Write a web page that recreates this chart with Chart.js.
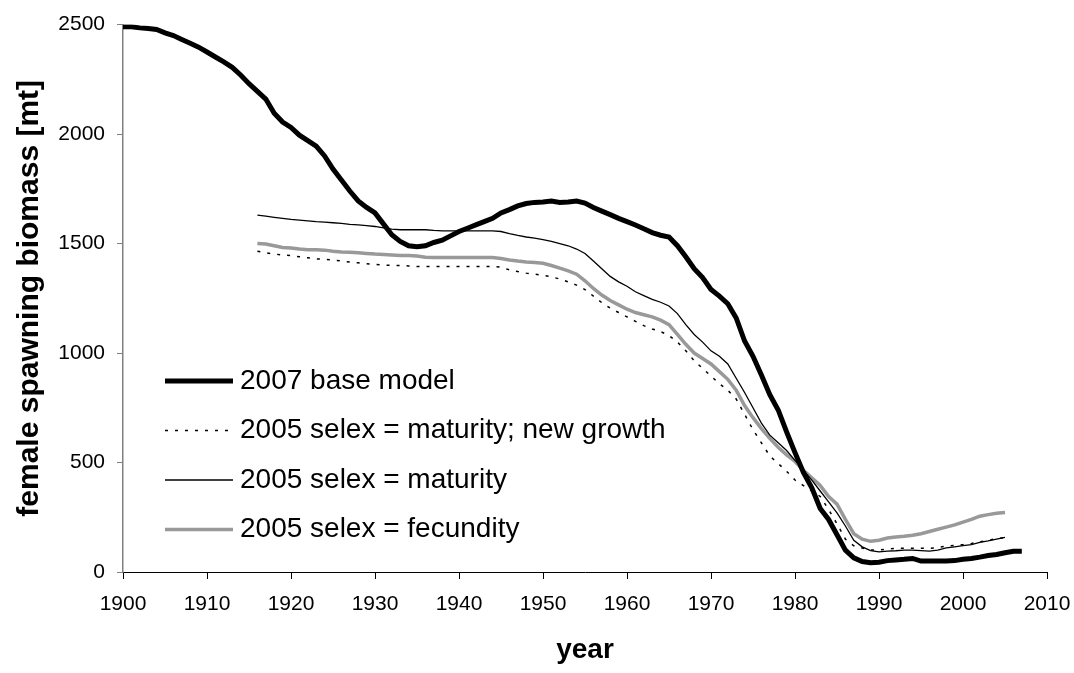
<!DOCTYPE html>
<html>
<head>
<meta charset="utf-8">
<title>female spawning biomass</title>
<script src="https://cdn.jsdelivr.net/npm/chart.js@4.4.1/dist/chart.umd.min.js"></script>
<style>
  html, body { margin: 0; padding: 0; background: #fff; }
  #wrap { width: 1074px; height: 673px; position: relative; }
</style>
</head>
<body>
<div id="wrap"><canvas id="biomass-chart"></canvas></div>
<script>
// first year of each series; one value per year after that
const baseStartYear = 1900;
const selexStartYear = 1916;

const seriesLabels = [
  "2007 base model",
  "2005 selex = maturity; new growth",
  "2005 selex = maturity",
  "2005 selex = fecundity"
];

// 1900 - 2007
const baseModel = [
  2490, 2490, 2485, 2482, 2478, 2462, 2450, 2432, 2415, 2397,
  2375, 2352, 2330, 2305, 2270, 2230, 2195, 2160, 2095, 2055,
  2030, 1995, 1970, 1945, 1900, 1840, 1790, 1740, 1695, 1665,
  1640, 1590, 1540, 1510, 1490, 1485, 1490, 1505, 1515, 1535,
  1555, 1570, 1585, 1600, 1615, 1640, 1655, 1672, 1683, 1688,
  1690, 1694, 1688, 1690, 1694, 1685, 1665, 1648, 1632, 1615,
  1600, 1585, 1568, 1550, 1538, 1530, 1490, 1440, 1385, 1345,
  1290, 1260, 1225, 1160, 1055, 985, 900, 810, 740, 640,
  545, 455, 385, 290, 240, 170, 100, 65, 48, 42,
  45, 52, 55, 58, 62, 50, 50, 50, 50, 52,
  58, 62, 68, 75, 80, 88, 95, 95
];

// 1916 - 2005
const newGrowth = [
  1465, 1458, 1452, 1448,
  1445, 1440, 1435, 1430, 1428, 1425, 1420, 1416, 1412, 1408,
  1405, 1402, 1400, 1400, 1398, 1395, 1395, 1395, 1395, 1395,
  1395, 1395, 1395, 1395, 1395, 1392, 1380, 1372, 1365, 1360,
  1355, 1348, 1338, 1325, 1310, 1290, 1260, 1230, 1205, 1185,
  1165, 1145, 1125, 1110, 1098, 1080, 1050, 1010, 965, 930,
  895, 860, 830, 790, 720, 650, 590, 530, 495, 460,
  420, 395, 370, 345, 285, 220, 150, 120, 110, 100,
  100, 105, 108, 108, 108, 108, 108, 112, 118, 122,
  125, 130, 138, 145, 152, 158
];

const maturity = [
  1630, 1625, 1620, 1615,
  1610, 1607, 1604, 1600, 1598, 1595, 1592, 1588, 1585, 1582,
  1578, 1572, 1566, 1563, 1563, 1563, 1563, 1560, 1558, 1558,
  1558, 1558, 1558, 1558, 1558, 1555, 1545, 1537, 1530, 1525,
  1518, 1510, 1500, 1490, 1475, 1455, 1420, 1385, 1350, 1325,
  1305, 1280, 1262, 1245, 1232, 1215, 1180, 1130, 1085, 1050,
  1010, 985, 950, 885, 820, 750, 680, 625, 590, 555,
  510, 465, 420, 370, 320, 270, 210, 145, 115, 98,
  92, 95, 97, 100, 100, 98, 95, 100, 110, 115,
  120, 125, 135, 142, 150, 158
];

const fecundity = [
  1500, 1498, 1490, 1482,
  1480, 1475, 1472, 1472, 1470, 1465, 1462, 1460, 1458, 1455,
  1452, 1450, 1448, 1445, 1445, 1443, 1438, 1436, 1436, 1436,
  1436, 1436, 1436, 1436, 1436, 1432, 1425, 1420, 1416, 1413,
  1410, 1400, 1388, 1375, 1360, 1330, 1295, 1265, 1240, 1220,
  1200, 1185, 1175, 1165, 1150, 1130, 1085, 1040, 1000, 975,
  950, 915, 880, 830, 760, 705, 655, 610, 570, 535,
  505, 465, 430, 395, 345, 310, 240, 175, 150, 140,
  145, 155, 160, 163, 168, 175, 185, 195, 205, 215,
  228, 240, 255, 262, 268, 272
];

const xTicks = [1900, 1910, 1920, 1930, 1940, 1950, 1960, 1970, 1980, 1990, 2000, 2010];
const yTicks = [0, 500, 1000, 1500, 2000, 2500];

function toPoints(startYear, values) {
  return values.map((v, i) => ({ x: startYear + i, y: v }));
}

const fontFamily = '"Liberation Sans", Arial, sans-serif';

// legend drawn inside the plot, lower left
const insideLegend = {
  id: "insideLegend",
  afterDatasetsDraw(chart) {
    const { ctx, chartArea } = chart;
    const x0 = chartArea.left + 42;
    const x1 = chartArea.left + 110;
    const textX = chartArea.left + 117;
    const top = 381;
    const gap = 49.5;
    chart.data.datasets.forEach((ds, i) => {
      const y = top + i * gap;
      ctx.save();
      ctx.strokeStyle = ds.borderColor;
      ctx.lineWidth = ds.borderWidth;
      ctx.setLineDash(ds.borderDash || []);
      ctx.beginPath();
      ctx.moveTo(x0, y);
      ctx.lineTo(x1, y);
      ctx.stroke();
      ctx.setLineDash([]);
      ctx.fillStyle = "#000";
      ctx.font = "28px " + fontFamily;
      ctx.textBaseline = "middle";
      ctx.fillText(ds.label, textX, y);
      ctx.restore();
    });
  }
};

const ctx = document.getElementById("biomass-chart").getContext("2d");
new Chart(ctx, {
  type: "line",
  data: {
    datasets: [
      {
        label: seriesLabels[0],
        data: toPoints(baseStartYear, baseModel),
        borderColor: "#000000",
        borderWidth: 5
      },
      {
        label: seriesLabels[1],
        data: toPoints(selexStartYear, newGrowth),
        borderColor: "#000000",
        borderWidth: 1.5,
        borderDash: [3, 7]
      },
      {
        label: seriesLabels[2],
        data: toPoints(selexStartYear, maturity),
        borderColor: "#000000",
        borderWidth: 1.3
      },
      {
        label: seriesLabels[3],
        data: toPoints(selexStartYear, fecundity),
        borderColor: "#999999",
        borderWidth: 3.5
      }
    ]
  },
  options: {
    responsive: true,
    maintainAspectRatio: false,
    animation: false,
    elements: {
      point: { radius: 0 },
      line: { tension: 0, fill: false, borderCapStyle: "butt" }
    },
    layout: { padding: { top: 20, right: 27, bottom: 0, left: 0 } },
    plugins: {
      legend: { display: false },
      tooltip: { enabled: false }
    },
    scales: {
      x: {
        type: "linear",
        min: xTicks[0],
        max: xTicks[xTicks.length - 1],
        afterBuildTicks: (scale) => { scale.ticks = xTicks.map((v) => ({ value: v })); },
        afterFit: (scale) => {
          scale.height = 101;
          scale.paddingLeft = 0;
          scale.paddingRight = 0;
        },
        ticks: {
          color: "#000",
          padding: 13,
          maxRotation: 0,
          font: { family: fontFamily, size: 21 },
          callback: (v) => String(v)
        },
        grid: { drawOnChartArea: false, drawTicks: true, tickLength: 7, tickColor: "#000" },
        border: { color: "#000", width: 1 },
        title: {
          display: true,
          text: "year",
          color: "#000",
          font: { family: fontFamily, size: 28, weight: "bold" },
          padding: { top: 0, bottom: 6 }
        }
      },
      y: {
        min: yTicks[0],
        max: yTicks[yTicks.length - 1],
        afterBuildTicks: (scale) => { scale.ticks = yTicks.map((v) => ({ value: v })); },
        afterFit: (scale) => { scale.width = 123; },
        ticks: {
          color: "#000",
          padding: 12,
          font: { family: fontFamily, size: 21 },
          callback: (v) => String(v)
        },
        grid: { drawOnChartArea: false, drawTicks: true, tickLength: 6, tickColor: "#808080" },
        border: { color: "#808080", width: 1.5 },
        title: {
          display: true,
          text: "female spawning biomass [mt]",
          color: "#000",
          font: { family: fontFamily, size: 30, weight: "bold" },
          padding: { top: 12, bottom: 0 }
        }
      }
    }
  },
  plugins: [insideLegend]
});
</script>
</body>
</html>
